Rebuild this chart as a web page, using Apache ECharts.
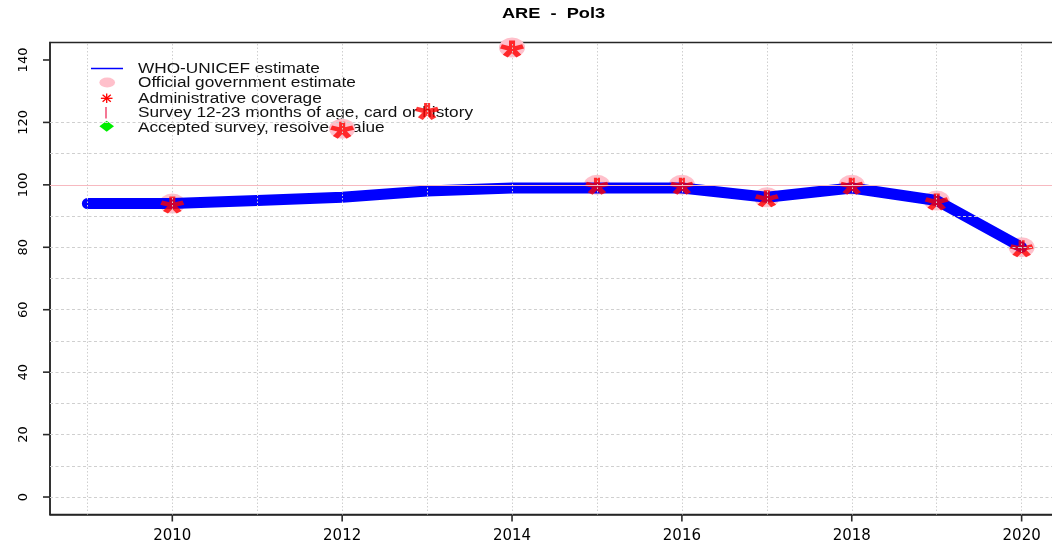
<!DOCTYPE html>
<html>
<head>
<meta charset="utf-8">
<script src="https://cdn.jsdelivr.net/npm/echarts@6/dist/echarts.min.js"></script>
<style>
html,body{margin:0;padding:0;background:#fff;}
#chart{width:1052px;height:548px;}
</style>
</head>
<body>
<div id="chart"></div>
<script>
// ---- data ----
const years = [2009, 2010, 2011, 2012, 2013, 2014, 2015, 2016, 2017, 2018, 2019, 2020];
const wuenicValues = [94, 94, 95, 96, 98, 99, 99, 99, 96, 99, 95, 80];
const officialYears = [2010, 2012, 2014, 2015, 2016, 2017, 2018, 2019, 2020];
const officialValues = [94, 118, 144, 100, 100, 96, 100, 95, 80];
const adminYears = [2010, 2012, 2013, 2014, 2015, 2016, 2017, 2018, 2019, 2020];
const adminValues = [94, 118, 124, 144, 100, 100, 96, 100, 95, 80];
const surveyValues = [];
const acceptedValues = [];
const xTickLabels = [2010, 2012, 2014, 2016, 2018, 2020];
const yTickLabels = [0, 20, 40, 60, 80, 100, 120, 140];
const hGridValues = [0, 10, 20, 30, 40, 50, 60, 70, 80, 90, 100, 110, 120];
const vGridValues = years;
const referenceLine = 100;
const titleText = 'ARE  -  Pol3';
const legendLabels = [
  'WHO-UNICEF estimate',
  'Official government estimate',
  'Administrative coverage',
  'Survey 12-23 months of age, card or history',
  'Accepted survey, resolved value'
];

const X_MIN = 2008.56, X_MAX = 2020.44, Y_MIN = -5.6, Y_MAX = 145.6;

// ---- asterisk symbol path (5 arms) ----
function asteriskPath() {
  const w = 0.26, L = 1;
  let p = '';
  for (let k = 0; k < 5; k++) {
    const a = (-90 + 72 * k) * Math.PI / 180;
    const dx = Math.cos(a), dy = Math.sin(a);
    const nx = -dy, ny = dx;
    const s = -0.15;
    const pts = [
      [s * dx + nx * w, s * dy + ny * w],
      [L * dx + nx * w, L * dy + ny * w],
      [L * dx - nx * w, L * dy - ny * w],
      [s * dx - nx * w, s * dy - ny * w]
    ];
    p += 'M' + pts.map(q => q[0].toFixed(3) + ' ' + q[1].toFixed(3)).join(' L') + ' Z ';
  }
  return 'path://' + p;
}

const chart = echarts.init(document.getElementById('chart'), null, {renderer: 'canvas'});

const gridMarks = [];
hGridValues.forEach(v => gridMarks.push({yAxis: v, lineStyle: {color: '#cfcfcf', type: [3, 2.5], width: 1}}));
vGridValues.forEach(v => gridMarks.push({xAxis: v, lineStyle: {color: '#cfcfcf', type: [1.5, 2], width: 1}}));
gridMarks.push({yAxis: referenceLine, lineStyle: {color: '#f7b9c0', type: 'solid', width: 1}});

const legendFont = '14px "Liberation Sans", Arial, sans-serif';
const lx = 138, ly = [69.3, 83, 98.8, 112.8, 127.7];

function gline(x1, y1, x2, y2, color, w, z) {
  return {type: 'line', z: z || 0, shape: {x1: x1, y1: y1, x2: x2, y2: y2}, style: {stroke: color, lineWidth: w}};
}

const axisColor = '#262626';

const graphics = [
  {type: 'text', x: 553.5, y: 14.5, scaleX: 1.3, z: 10,
   style: {text: titleText, font: 'bold 14px "Liberation Sans", Arial, sans-serif', fill: '#000', textAlign: 'center', textVerticalAlign: 'middle'}},
  gline(91, 68.5, 123, 68.5, '#0000ff', 1.5),
  {type: 'circle', z: 0, x: 107.2, y: 82.5, scaleX: 1.6, shape: {cx: 0, cy: 0, r: 4.9}, style: {fill: '#ffc0cb'}},
  gline(100.9, 98.3, 112.5, 98.3, '#ff0000', 1.3),
  gline(106.7, 93.6, 106.7, 103, '#ff0000', 1.3),
  gline(102.6, 94.8, 110.8, 101.8, '#ff0000', 1.3),
  gline(102.6, 101.8, 110.8, 94.8, '#ff0000', 1.3),
  gline(106, 107, 106, 118.5, '#f2557a', 1.6),
  {type: 'polygon', z: 0, shape: {points: [[106.7, 120.7], [114, 126.2], [106.7, 131.7], [99.4, 126.2]]}, style: {fill: '#00ee00'}}
].concat(legendLabels.map((t, i) => ({
  type: 'text', z: 0, x: lx, y: ly[i], scaleX: 1.23,
  style: {text: t, font: legendFont, fill: '#111', textAlign: 'left', textVerticalAlign: 'middle'}
})));

const option = {
  animation: false,
  backgroundColor: '#ffffff',
  grid: {
    left: 50, width: 1009, top: 42.5, bottom: 33.5,
    containLabel: false, outerBoundsMode: 'none',
    show: true, borderColor: axisColor, borderWidth: 1.5, backgroundColor: 'transparent'
  },
  xAxis: {
    type: 'value', min: X_MIN, max: X_MAX,
    splitLine: {show: false},
    axisLine: {show: true, onZero: false, lineStyle: {color: axisColor, width: 1.5}},
    axisTick: {show: false},
    axisLabel: {
      customValues: xTickLabels, margin: 14,
      fontFamily: '"DejaVu Sans", sans-serif', fontSize: 15, color: '#000',
      formatter: v => String(v)
    }
  },
  yAxis: {
    type: 'value', min: Y_MIN, max: Y_MAX,
    splitLine: {show: false},
    axisLine: {show: true, onZero: false, lineStyle: {color: axisColor, width: 1.5}},
    axisTick: {show: false},
    axisLabel: {
      customValues: yTickLabels, margin: 20, rotate: 90,
      fontFamily: '"DejaVu Sans", sans-serif', fontSize: 13, color: '#000',
      formatter: v => String(v)
    }
  },
  graphic: graphics,
  series: [
    {
      name: 'grid', type: 'line', data: [], z: 1, silent: true,
      markLine: {silent: true, symbol: ['none', 'none'], label: {show: false}, animation: false, data: gridMarks}
    },
    {
      name: legendLabels[1], type: 'scatter', z: 2,
      symbol: 'circle', symbolSize: [26, 20],
      itemStyle: {color: '#ffc0cb', opacity: 1},
      data: officialYears.map((y, i) => [y, officialValues[i]])
    },
    {
      name: legendLabels[0], type: 'line', z: 3,
      showSymbol: false, symbol: 'none',
      lineStyle: {color: '#0000ff', width: 11, cap: 'round', join: 'round'},
      data: years.map((y, i) => [y, wuenicValues[i]])
    },
    {
      name: legendLabels[2], type: 'scatter', z: 4,
      symbol: asteriskPath(), symbolSize: [24, 17], symbolKeepAspect: false, symbolOffset: [0, 1.5],
      itemStyle: {color: '#ff0000'},
      data: adminYears.map((y, i) => [y, adminValues[i]])
    },
    {name: legendLabels[3], type: 'scatter', z: 4, data: surveyValues},
    {name: legendLabels[4], type: 'scatter', z: 4, data: acceptedValues}
  ]
};
chart.setOption(option);

// axis tick marks, placed through the chart's own scales
const tickLen = 7, tickColor = '#2a2a2a';
const tickGraphics = [];
xTickLabels.forEach(v => {
  const p = chart.convertToPixel({gridIndex: 0}, [v, Y_MIN]);
  if (p) tickGraphics.push(gline(p[0], p[1], p[0], p[1] + tickLen, tickColor, 1.6, 5));
});
yTickLabels.forEach(v => {
  const p = chart.convertToPixel({gridIndex: 0}, [X_MIN, v]);
  if (p) tickGraphics.push(gline(p[0], p[1], p[0] - tickLen, p[1], tickColor, 1.6, 5));
});
chart.setOption({graphic: graphics.concat(tickGraphics)});
</script>
</body>
</html>
